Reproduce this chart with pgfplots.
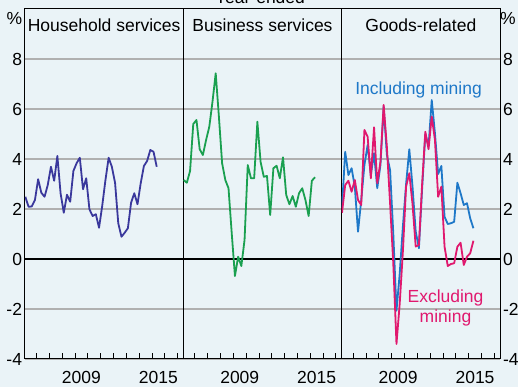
\documentclass[border=0pt]{standalone}
\usepackage{pgfplots}
\pgfplotsset{compat=1.18}
\usepackage{pgfplotstable}
\usepackage{fontspec}
\setmainfont{Liberation Sans}

\definecolor{bg}{RGB}{234,243,247}
\definecolor{hhblue}{RGB}{58,56,156}
\definecolor{bsgreen}{RGB}{26,160,80}
\definecolor{incblue}{RGB}{30,120,200}
\definecolor{excpink}{RGB}{224,24,110}
\definecolor{gridgray}{RGB}{176,176,176}

% year-ended growth, quarterly
\pgfplotstableread{
date     hh    bus    inc    exc
2005.125 2.49  3.16  2.05  1.85
2005.375 2.09  3.05  4.29  2.96
2005.625 2.10  3.52  3.36  3.13
2005.875 2.36  5.40  3.63  2.69
2006.125 3.19  5.56  2.89  3.16
2006.375 2.65  4.39  1.09  2.36
2006.625 2.49  4.16  2.36  2.16
2006.875 2.96  4.76  3.76  5.16
2007.125 3.69  5.29  4.56  4.89
2007.375 3.13  6.29  3.36  3.23
2007.625 4.12  7.43  4.23  5.27
2007.875 2.63  5.69  2.83  3.03
2008.125 1.85  3.83  3.76  3.89
2008.375 2.57  3.16  6.09  6.16
2008.625 2.29  2.83  4.16  4.49
2008.875 3.52  1.03  3.56  2.23
2009.125 3.83 -0.68  1.03 -0.17
2009.375 4.05  0.09 -2.07 -3.40
2009.625 2.79 -0.28 -0.60 -1.80
2009.875 3.23  0.76  1.30  0.30
2010.125 1.99  3.76  3.00  2.90
2010.375 1.72  3.23  4.39  3.43
2010.625 1.79  3.23  2.90  2.20
2010.875 1.25  5.49  1.10  0.50
2011.125 2.13  3.89  0.43  0.56
2011.375 3.16  3.29  2.80  3.00
2011.625 4.05  3.32  5.00  5.09
2011.875 3.69  1.76  4.50  4.39
2012.125 3.05  3.63  6.36  5.70
2012.375 1.43  3.73  5.03  4.76
2012.625 0.89  3.23  3.40  2.49
2012.875 1.05  4.07  3.72  2.89
2013.125 1.23  2.56  1.69  0.49
2013.375 2.25  2.19  1.40 -0.28
2013.625 2.63  2.52  1.43 -0.20
2013.875 2.19  2.09  1.49 -0.17
2014.125 3.03  2.63  3.05  0.49
2014.375 3.72  2.83  2.63  0.65
2014.625 3.92  2.36  2.16 -0.24
2014.875 4.36  1.72  2.23  0.09
2015.125 4.29  3.13  1.63  0.23
2015.375 3.69  3.27  1.23  0.73
}\growth

\pgfplotsset{
  panel/.style={
    scale only axis, width=158.33pt, height=350pt,
    xmin=2005.1, xmax=2017.45, ymin=-4, ymax=10,
    xtick={2006,...,2017}, xticklabels={},
    extra x ticks={2009.5,2015.5}, extra x tick labels={2009,2015},
    extra x tick style={major tick length=0pt},
    xtick pos=lower, tick align=inside, major tick length=6pt,
    tick style={black, line width=0.8pt},
    ytick={-4,-2,...,8}, ytick style={draw=none},
    ymajorgrids, major grid style={gridgray, line width=1.2pt},
    axis line style={black, line width=1pt},
    axis background/.style={fill=bg},
    xticklabel style={inner ysep=0pt, yshift=-12.5pt},
    yticklabel style={inner xsep=2.8pt},
    /pgf/number format/assume math mode=true,
    every axis plot/.append style={line width=1.8pt, no markers, line join=round},
  },
}
\tikzset{ptitle/.style={anchor=north, inner sep=0pt, yshift=-9.3pt}}

\begin{document}
\begin{tikzpicture}[font=\fontsize{17.5}{21}\selectfont]
  \fill[bg] (-25pt,-28pt) rectangle (493pt,359pt);
  \useasboundingbox (-25pt,-28pt) rectangle (493pt,359pt);

  \begin{axis}[panel, at={(0pt,0pt)}, yticklabel pos=left]
    \draw[black, line width=1.2pt] (axis cs:2005.1,0) -- (axis cs:2017.45,0);
    \addplot[hhblue] table[x=date, y=hh] {\growth};
    \node[ptitle] at (rel axis cs:0.5,1) {Household services};
  \end{axis}

  \begin{axis}[panel, at={(158.33pt,0pt)}, yticklabels={}]
    \draw[black, line width=1.2pt] (axis cs:2005.1,0) -- (axis cs:2017.45,0);
    \addplot[bsgreen] table[x=date, y=bus] {\growth};
    \node[ptitle] at (rel axis cs:0.5,1) {Business services};
  \end{axis}

  \begin{axis}[panel, at={(316.67pt,0pt)}, yticklabel pos=right]
    \draw[black, line width=1.2pt] (axis cs:2005.1,0) -- (axis cs:2017.45,0);
    \addplot[incblue] table[x=date, y=inc] {\growth};
    \addplot[excpink] table[x=date, y=exc] {\growth};
    \node[ptitle] at (rel axis cs:0.5,1) {Goods-related};
    \node[incblue, anchor=base] at (axis cs:2011.1,6.56) {Including mining};
    \node[excpink, anchor=north, inner sep=0pt, align=center] at (axis cs:2013.2,-1.24)
      {Excluding\\[-1pt]mining};
  \end{axis}

  \node at (-10.5pt,341pt) {\%};
  \node at (483pt,341pt) {\%};
  \node[anchor=base] at (235pt,355.5pt) {Year-ended};
\end{tikzpicture}
\end{document}
